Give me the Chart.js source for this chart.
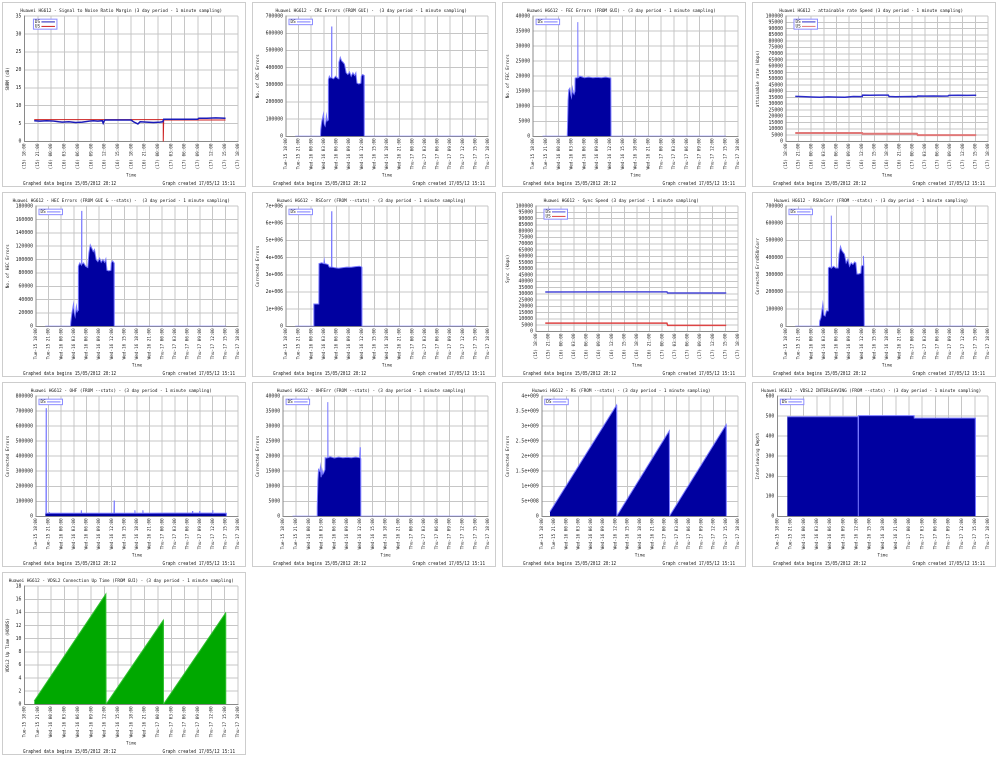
<!DOCTYPE html>
<html><head><meta charset="utf-8">
<script src="https://cdn.jsdelivr.net/npm/chart.js@4.4.0/dist/chart.umd.min.js"></script>
<style>
html,body{margin:0;padding:0;background:#fff;width:999px;height:757px;overflow:hidden;}
.panel{position:absolute;width:244px;height:185px;overflow:hidden;box-sizing:border-box;border:1px solid #cdcdcd;background:#fff;}
.inner{position:absolute;left:0;top:0;width:488px;height:370px;transform:scale(0.5);transform-origin:0 0;}
.inner canvas{position:absolute;left:0;top:0;}
.foot{position:absolute;left:0;width:488px;bottom:3px;height:11px;line-height:11px;font:8.6px 'DejaVu Sans Mono',monospace;color:#222;white-space:nowrap;}
.foot .l{position:absolute;left:40px;}
.foot .r{position:absolute;right:24px;}
</style>
</head><body>
<script>
// ---- tick labels ----
const TICKS_DAY = ['Tue-15 18:00','Tue-15 21:00','Wed-16 00:00','Wed-16 03:00','Wed-16 06:00','Wed-16 09:00','Wed-16 12:00','Wed-16 15:00','Wed-16 18:00','Wed-16 21:00','Thu-17 00:00','Thu-17 03:00','Thu-17 06:00','Thu-17 09:00','Thu-17 12:00','Thu-17 15:00','Thu-17 18:00'];
const TICKS_NUM = ['(15) 18:00','(15) 21:00','(16) 00:00','(16) 03:00','(16) 06:00','(16) 09:00','(16) 12:00','(16) 15:00','(16) 18:00','(16) 21:00','(17) 00:00','(17) 03:00','(17) 06:00','(17) 09:00','(17) 12:00','(17) 15:00','(17) 18:00'];
const RSCORR_YLABELS = ['0','1e+006','2e+006','3e+006','4e+006','5e+006','6e+006','7e+006'];
const RS_YLABELS = ['0','5e+008','1e+009','1.5e+009','2e+009','2.5e+009','3e+009','3.5e+009','4e+009'];
const FOOT_LEFT = 'Graphed data begins 15/05/2012 20:12';
const FOOT_RIGHT = 'Graph created 17/05/12 15:11';

// ---- data (time in hours after Tue-15 18:00) ----
const SNR_DS_T = [2.2,3.5,5,6.5,7.7,8.5,10,11.5,13,14.7,15.5,16.5,17.5,17.7,17.9,18.1,20,22,24,24.5,25.5,26,27.5,29,30.5,31.1,31.3,33,35,37,38.9,39.2,41,43,45.2];
const SNR_DS   = [5.8,5.7,5.8,5.7,5.5,5.4,5.5,5.3,5.4,5.7,5.8,5.7,5.8,5.1,5.7,6.0,6.0,6.0,6.0,5.5,4.9,5.5,5.4,5.3,5.4,5.5,6.2,6.2,6.2,6.2,6.2,6.5,6.5,6.6,6.5];
const SNR_US_T = [2.2,18.2,31.2,31.2,31.3,45.2];
const SNR_US   = [6.1,6.1,6.1,0,6.0,6.0];

const CRC_T = [2.2,8.2,8.27,8.5,8.9,9.1,9.3,9.5,9.6,9.8,10.0,10.07,10.3,10.5,10.8,10.85,10.9,11.3,11.8,12.2,12.5,12.57,12.9,13.2,13.6,13.9,14.3,14.7,15.1,15.5,15.9,16.3,16.6,16.86,17.3,17.8,17.9,18.2,18.55,18.6,45.2];
const CRC   = [0,0,40000,85000,130000,70000,60000,90000,120000,90000,95000,330000,350000,340000,345000,640000,340000,335000,350000,340000,335000,430000,460000,440000,430000,420000,370000,360000,375000,350000,370000,355000,370000,310000,305000,310000,350000,360000,355000,0,0];

const FEC_T = [2.2,8.0,8.06,8.2,8.35,8.6,8.8,9.0,9.2,9.4,9.6,9.8,9.85,10.2,10.42,10.47,10.52,11,12,13,14,15,16,17,17.8,18.2,18.25,45.2];
const FEC   = [0,0,3000,12000,15500,16000,14000,13000,16000,14500,14000,15000,19400,19500,19600,38000,19500,20000,19500,19700,19500,19600,19500,19700,19500,19400,0,0];

const ATT_DS_T = [2.2,4,6,8,10,12,14,16,18.1,18.2,20,22,24.3,24.5,26,28,30,31.1,31.3,33,35,37,38.5,38.7,41,43,45.2];
const ATT_DS   = [36000,35800,35500,35300,35600,35400,35300,35900,35800,37000,36900,37000,37000,35900,35700,35800,35900,35800,36300,36200,36300,36200,36300,36800,36900,36800,36900];
const ATT_US_T = [2.2,18.1,18.2,31.1,31.3,45.2];
const ATT_US   = [6800,6800,6200,6200,5100,5100];

const HEC_T = [2.2,8.2,8.27,8.5,8.9,9.1,9.3,9.5,9.6,9.8,10.0,10.07,10.4,10.8,10.85,10.9,11.3,11.8,12.3,12.57,12.9,13.2,13.6,13.9,14.3,14.7,15.1,15.5,15.9,16.3,16.6,16.86,17.3,17.8,17.9,18.2,18.55,18.6,45.2];
const HEC   = [0,0,6000,18000,33000,20000,15000,25000,30000,22000,24000,90000,95000,92000,173000,93000,95000,90000,88000,110000,122000,118000,112000,115000,100000,97000,102000,96000,100000,96000,101000,84000,83000,84000,95000,98000,95000,0,0];

const RSC_T = [2.2,6.6,6.62,7.8,7.85,8.5,9.0,9.1,9.2,10.0,10.3,10.8,10.85,10.9,11.5,12.5,13.5,14.5,15.5,16.5,17.5,18.0,18.05,45.2];
const RSC   = [0,0,1300000,1300000,3650000,3700000,3650000,3850000,3650000,3600000,3450000,3450000,6700000,3450000,3420000,3380000,3420000,3450000,3440000,3480000,3500000,3450000,0,0];

const SYNC_DS_T = [2.2,18.2,31.1,31.3,45.2];
const SYNC_DS   = [31500,31600,31600,30700,30700];
const SYNC_US_T = [2.2,31.1,31.3,45.2];
const SYNC_US   = [6700,6700,4900,4900];

const RSU_T = [2.2,7.95,8.0,8.3,8.75,9.0,9.3,9.6,10.0,10.07,10.4,10.72,10.77,10.82,11.3,11.8,12.4,12.6,12.95,13.3,13.9,14.3,14.7,15.1,15.5,15.9,16.3,16.6,16.86,17.3,17.8,17.9,18.3,18.4,18.5,18.6,45.2];
const RSU   = [0,0,30000,50000,130000,65000,60000,90000,90000,340000,345000,340000,645000,340000,350000,340000,340000,420000,465000,440000,420000,370000,390000,350000,370000,360000,375000,370000,305000,305000,310000,350000,355000,410000,350000,0,0];

const OHF_T = [2.2,2.37,2.42,2.47,3.15,3.2,3.25,10.72,10.77,10.82,18.53,18.58,18.63,23.45,23.5,23.55,25.35,25.4,25.45,31.0,37.15,37.2,37.25,38.85,38.9,38.95,41.95,42.0,42.05,45.2,45.25];
const OHF   = [20000,20000,720000,20000,20000,28000,20000,20000,40000,20000,20000,105000,20000,20000,40000,20000,20000,40000,20000,21000,21000,35000,21000,21000,35000,21000,21000,40000,20000,20000,0];

const OHFE_T = [2.2,7.95,8.0,8.15,8.3,8.6,8.75,8.9,9.1,9.3,9.5,9.8,9.85,10.2,10.42,10.47,10.52,11,12,13,14,15,16,17,17.9,18.05,18.1,18.15,18.2,45.2];
const OHFE   = [0,0,3000,12000,15600,15000,16500,13000,15500,14000,14500,15500,19500,19400,19600,38000,19500,19800,19400,19700,19500,19600,19500,19700,19500,23000,19400,19300,0,0];

const RS_T = [2.0,18.3,18.35,31.2,31.25,45.1,45.15];
const RS   = [0.15e9,3.7e9,0.01e9,2.85e9,0.01e9,3.05e9,0];

const INT_T = [2.25,18.4,18.45,18.5,31.15,31.2,45.1,45.15];
const INT   = [497,497,0,503,503,490,490,0];

const UP_T = [2.2,18.3,18.35,31.2,31.25,45.2,45.25];
const UP   = [0.5,16.8,0,12.8,0,13.9,0];

// ---- styling ----
const FONT = "'DejaVu Sans Mono', monospace";
Chart.defaults.font.family = FONT;
Chart.defaults.color = '#222';
const NAVY = '#0000a0', LIGHT = '#7a7aff';

function area(label, t, v, fillCol, lineCol){ return {label, t, v, fill: fillCol || NAVY, line: lineCol || LIGHT, w: 2}; }
function line(label, t, v, col, w){ return {label, t, v, line: col, w: w || 3}; }

const PANELS = [
 {x:2,y:2,title:'Huawei HG612 - Signal to Noise Ratio Margin (3 day period - 1 minute sampling)',yTitle:'SNRM (dB)',yMax:35,yStep:5,xt:TICKS_NUM,leg:18,
  series:[line('DS',SNR_DS_T,SNR_DS,'#1a1ab8',3), line('US',SNR_US_T,SNR_US,'#cc2020',2)]},
 {x:252,y:2,title:'Huawei HG612 - CRC Errors (FROM GUI) -  (3 day period - 1 minute sampling)',yTitle:'No. of CRC Errors',yMax:700000,yStep:100000,xt:TICKS_DAY,leg:6,
  series:[area('DS',CRC_T,CRC)]},
 {x:502,y:2,title:'Huawei HG612 - FEC Errors (FROM GUI) - (3 day period - 1 minute sampling)',yTitle:'No. of FEC Errors',yMax:40000,yStep:5000,xt:TICKS_DAY,leg:6,
  series:[area('DS',FEC_T,FEC)]},
 {x:752,y:2,title:'Huawei HG612 - attainable rate Speed (3 day period - 1 minute sampling)',yTitle:'attainable rate (kbps)',yMax:100000,yStep:5000,xt:TICKS_NUM,leg:16,
  series:[line('DS',ATT_DS_T,ATT_DS,'#2a2ac8',3), line('US',ATT_US_T,ATT_US,'#e07878',4)]},
 {x:2,y:192,title:'Huawei HG612 - HEC Errors (FROM GUI & --stats) -  (3 day period - 1 minute sampling)',yTitle:'No. of HEC Errors',yMax:180000,yStep:20000,xt:TICKS_DAY,leg:6,
  series:[area('DS',HEC_T,HEC)]},
 {x:252,y:192,title:'Huawei HG612 - RSCorr (FROM --stats) - (3 day period - 1 minute sampling)',yTitle:'Corrected Errors',yMax:7000000,yStep:1000000,yLabels:RSCORR_YLABELS,xt:TICKS_DAY,leg:6,
  series:[area('DS',RSC_T,RSC)]},
 {x:502,y:192,title:'Huawei HG612 - Sync Speed (3 day period - 1 minute sampling)',yTitle:'Sync (kbps)',yMax:100000,yStep:5000,xt:TICKS_NUM,leg:16,
  series:[line('DS',SYNC_DS_T,SYNC_DS,'#4848d8',3), line('US',SYNC_US_T,SYNC_US,'#dd4444',3)]},
 {x:752,y:192,title:'Huawei HG612 - RSUnCorr (FROM --stats) - (3 day period - 1 minute sampling)',yTitle:'Corrected ErrsRSUnCorr',yMax:700000,yStep:100000,xt:TICKS_DAY,leg:6,
  series:[area('DS',RSU_T,RSU)]},
 {x:2,y:382,title:'Huawei HG612 - OHF (FROM --stats) - (3 day period - 1 minute sampling)',yTitle:'Corrected Errors',yMax:800000,yStep:100000,xt:TICKS_DAY,leg:6,
  series:[area('DS',OHF_T,OHF)]},
 {x:252,y:382,title:'Huawei HG612 - OHFErr (FROM --stats) - (3 day period - 1 minute sampling)',yTitle:'Corrected Errors',yMax:40000,yStep:5000,xt:TICKS_DAY,leg:6,
  series:[area('DS',OHFE_T,OHFE)]},
 {x:502,y:382,title:'Huawei HG612 - RS (FROM --stats) - (3 day period - 1 minute sampling)',yTitle:'Corrected Errors',yMax:4000000000,yStep:500000000,yLabels:RS_YLABELS,xt:TICKS_DAY,leg:6,
  series:[area('DS',RS_T,RS)]},
 {x:752,y:382,title:'Huawei HG612 - VDSL2 INTERLEAVING (FROM --stats) - (3 day period - 1 minute sampling)',yTitle:'Interleaving Depth',yMax:600,yStep:100,xt:TICKS_DAY,leg:6,
  series:[area('DS',INT_T,INT)]},
 {x:2,y:572,h:183,title:'Huawei HG612 - VDSL2 Connection Up Time (FROM GUI) - (3 day period - 1 minute sampling)',yTitle:'VDSL2 Up Time (HOURS)',yMax:18,yStep:2,xt:TICKS_DAY,leg:6,noLegend:true,
  series:[area('DS',UP_T,UP,'#00a800','#30c030')]}
];

const legendBox = {
  id: 'legendBox',
  afterDatasetsDraw(chart, args, opts) {
    if (opts.hide) return;
    const ca = chart.chartArea, ctx = chart.ctx, ds = chart.data.datasets;
    const x = ca.left + (opts.offset || 6), y = ca.top + 6;
    const rowH = 9, w = 47, h = ds.length * rowH + 2;
    ctx.save();
    ctx.fillStyle = '#ffffff'; ctx.fillRect(x, y, w, h);
    ctx.strokeStyle = '#8c8cff'; ctx.lineWidth = 2; ctx.strokeRect(x, y, w, h);
    ctx.font = "8.6px " + FONT; ctx.textBaseline = 'middle'; ctx.textAlign = 'left';
    ds.forEach((d, i) => {
      const cy = y + 1 + rowH * i + rowH / 2;
      ctx.fillStyle = '#222'; ctx.fillText(d.label, x + 3, cy);
      ctx.strokeStyle = d.borderColor; ctx.lineWidth = 2;
      ctx.beginPath(); ctx.moveTo(x + 16, cy); ctx.lineTo(x + 43, cy); ctx.stroke();
    });
    ctx.restore();
  }
};

PANELS.forEach(p => {
  const H = p.h || 185;
  const panel = document.createElement('div');
  panel.className = 'panel';
  panel.style.left = p.x + 'px'; panel.style.top = p.y + 'px'; panel.style.height = H + 'px';
  const inner = document.createElement('div');
  inner.className = 'inner'; inner.style.height = (H * 2) + 'px';
  const cv = document.createElement('canvas');
  cv.width = 488; cv.height = H * 2;
  inner.appendChild(cv);
  const foot = document.createElement('div');
  foot.className = 'foot';
  const fl = document.createElement('span'); fl.className = 'l'; fl.textContent = FOOT_LEFT;
  const fr = document.createElement('span'); fr.className = 'r'; fr.textContent = FOOT_RIGHT;
  foot.appendChild(fl); foot.appendChild(fr);
  inner.appendChild(foot);
  panel.appendChild(inner);
  document.body.appendChild(panel);

  const datasets = p.series.map(s => ({
    label: s.label,
    data: s.t.map((t, i) => ({x: t, y: s.v[i]})),
    borderColor: s.line,
    backgroundColor: s.fill || s.line,
    fill: s.fill ? 'origin' : false,
    borderWidth: s.w,
    pointRadius: 0,
    tension: 0
  }));

  const gridCfg = {color: '#c6c6c6', lineWidth: 2, drawTicks: false};
  new Chart(cv, {
    type: 'line',
    data: {datasets},
    plugins: [legendBox],
    options: {
      responsive: false, animation: false, devicePixelRatio: 1,
      layout: {padding: {left: 3, right: 18, top: 0, bottom: 20}},
      plugins: {
        legend: {display: false}, tooltip: {enabled: false},
        title: {display: true, text: p.title, color: '#111', font: {size: 8.6, weight: 'normal'}, padding: {top: 11, bottom: 5}},
        legendBox: {offset: p.leg, hide: !!p.noLegend}
      },
      scales: {
        x: {
          type: 'linear', min: 0, max: 48,
          ticks: {stepSize: 3, autoSkip: false, maxRotation: 90, minRotation: 90, padding: 4,
                  font: {size: 8.6}, color: '#222',
                  callback: v => { const k = Math.round(v / 3); return p.xt[k] !== undefined ? p.xt[k] : ''; }},
          grid: gridCfg,
          border: {color: '#8a8a8a', width: 2},
          title: {display: true, text: 'Time', font: {size: 8.6}, color: '#222', padding: {top: 3, bottom: 0}}
        },
        y: {
          min: 0, max: p.yMax,
          ticks: {stepSize: p.yStep, autoSkip: false, padding: 6, font: {size: 9.6}, color: '#222',
                  callback: v => { if (p.yLabels) { const k = Math.round(v / p.yStep); return p.yLabels[k] !== undefined ? p.yLabels[k] : ''; } return String(v); }},
          grid: gridCfg,
          border: {color: '#8a8a8a', width: 2},
          title: {display: true, text: p.yTitle, font: {size: 8.6}, color: '#222', padding: {top: 2, bottom: 4}}
        }
      }
    }
  });
});
</script>
</body></html>
